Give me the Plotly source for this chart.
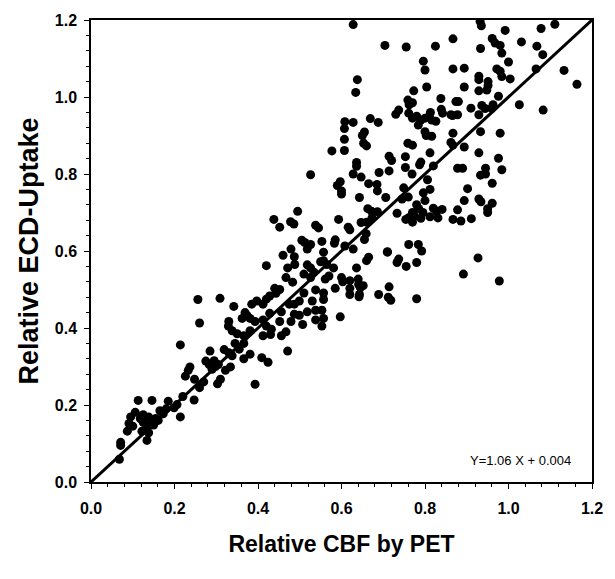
import plotly.graph_objects as go

# Relative CBF by PET (x) and Relative ECD-uptake (y), grouped by region of the plot
low_cbf = [0.068,0.071,0.071,0.087,0.091,0.095,0.106,0.113,0.118,0.122,0.134,0.134,0.138,0.138,0.146,0.15,0.161,0.173,0.185,0.199,0.206,0.214,0.22,0.247,0.226,0.237,0.214,0.275,0.285,0.29,0.248,0.233,0.26,0.27,0.10,0.125,0.155,0.165,0.18,0.145,0.125]
low_ecd = [0.059,0.095,0.103,0.132,0.152,0.169,0.181,0.212,0.165,0.132,0.108,0.144,0.128,0.169,0.212,0.148,0.16,0.177,0.21,0.193,0.201,0.169,0.222,0.213,0.275,0.299,0.356,0.314,0.34,0.293,0.267,0.29,0.245,0.26,0.145,0.175,0.165,0.185,0.19,0.155,0.155]

mid_low_cbf = [0.256,0.309,0.342,0.26,0.33,0.329,0.338,0.319,0.33,0.338,0.366,0.381,0.409,0.424,0.471,0.31,0.303,0.393,0.305,0.298,0.334,0.322,0.283,0.295,0.366,0.35,0.345,0.355]
mid_low_ecd = [0.474,0.477,0.456,0.413,0.417,0.405,0.393,0.344,0.336,0.328,0.32,0.332,0.323,0.311,0.34,0.267,0.255,0.254,0.305,0.3,0.299,0.29,0.305,0.315,0.36,0.385,0.36,0.345]

mid_cbf = [0.495,0.438,0.452,0.486,0.478,0.538,0.545,0.593,0.616,0.62,0.647,0.505,0.512,0.526,0.518,0.553,0.585,0.583,0.608,0.628,0.655,0.479,0.46,0.487,0.557,0.42,0.471,0.488,0.518,0.526,0.55,0.557,0.565,0.581,0.467,0.483,0.51,0.526,0.534,0.561,0.57,0.6,0.603,0.62,0.64,0.652,0.585,0.62,0.643,0.62,0.44,0.443,0.452,0.428,0.42,0.538,0.557,0.557,0.51,0.499,0.53,0.475,0.487,0.518,0.538,0.553,0.557,0.538,0.499,0.487,0.479,0.507,0.553,0.597,0.456,0.452,0.467,0.428,0.412,0.397,0.385,0.369,0.374,0.362,0.381,0.393,0.412,0.42,0.432,0.43,0.456,0.412,0.381,0.366]
mid_ecd = [0.703,0.682,0.662,0.67,0.676,0.667,0.66,0.682,0.662,0.655,0.674,0.628,0.622,0.617,0.605,0.625,0.629,0.62,0.613,0.605,0.63,0.605,0.589,0.585,0.597,0.562,0.556,0.565,0.564,0.556,0.572,0.575,0.565,0.556,0.531,0.519,0.54,0.531,0.545,0.527,0.535,0.531,0.52,0.523,0.527,0.51,0.503,0.503,0.487,0.487,0.503,0.49,0.5,0.483,0.475,0.499,0.491,0.474,0.491,0.47,0.47,0.462,0.462,0.442,0.446,0.446,0.425,0.421,0.433,0.436,0.417,0.409,0.405,0.429,0.442,0.417,0.39,0.438,0.462,0.47,0.462,0.44,0.432,0.425,0.425,0.417,0.421,0.405,0.397,0.383,0.38,0.38,0.393,0.38]

upper_mid_cbf = [0.577,0.607,0.714,0.72,0.753,0.753,0.636,0.636,0.526,0.628,0.647,0.69,0.714,0.769,0.597,0.59,0.665,0.685,0.6,0.6,0.686,0.749,0.643,0.706,0.745,0.76,0.663,0.672,0.686,0.733,0.77,0.775,0.785,0.79,0.78,0.795,0.77,0.754,0.762,0.659,0.71,0.761,0.673,0.66,0.784]
upper_mid_ecd = [0.86,0.861,0.846,0.835,0.845,0.817,0.82,0.83,0.798,0.8,0.792,0.804,0.808,0.8,0.78,0.77,0.775,0.773,0.756,0.748,0.756,0.764,0.739,0.739,0.735,0.74,0.71,0.703,0.702,0.698,0.70,0.69,0.71,0.685,0.72,0.70,0.675,0.682,0.687,0.645,0.597,0.617,0.686,0.675,0.617]

top_mid_cbf = [0.628,0.704,0.755,0.638,0.634,0.773,0.759,0.762,0.77,0.737,0.73,0.761,0.77,0.78,0.784,0.608,0.628,0.669,0.688,0.607,0.655,0.65,0.607,0.653,0.66,0.759,0.77]
top_mid_ecd = [1.188,1.134,1.13,1.045,1.012,1.016,0.992,0.98,0.985,0.966,0.955,0.958,0.945,0.95,0.927,0.936,0.934,0.944,0.934,0.918,0.909,0.9,0.89,0.88,0.873,0.88,0.875]

top_right_cbf = [0.932,0.935,0.992,0.867,0.825,0.961,0.968,0.933,0.98,0.984,1.031,1.0,0.796,0.8,0.867,0.894,0.972,0.98,0.929,0.929,0.984,1.004,0.804,0.894,0.951,0.951,0.948,0.929,0.976,0.838,0.874,0.88,0.91,0.936,0.944,0.963,0.96,1.026,0.813,0.81,0.839,0.842,0.862,0.866,0.878,0.929,0.79,0.8,0.816,0.826,0.8,0.803,0.816,0.867,0.933,0.98,0.862,0.867,0.894]
top_right_ecd = [1.196,1.185,1.173,1.151,1.132,1.152,1.14,1.126,1.134,1.114,1.143,1.091,1.093,1.07,1.073,1.075,1.073,1.067,1.054,1.045,1.053,1.047,1.026,1.026,1.04,1.03,1.018,1.016,1.002,0.996,0.988,0.988,0.971,0.978,0.97,0.98,0.97,0.98,0.96,0.95,0.968,0.958,0.954,0.952,0.954,0.954,0.94,0.945,0.94,0.937,0.91,0.9,0.898,0.906,0.91,0.906,0.882,0.875,0.87]

right_cbf = [0.929,0.976,0.812,0.79,0.787,0.82,0.878,0.89,0.945,0.945,0.933,0.984,0.961,0.806,0.902,0.812,0.796,0.894,0.929,0.934,0.961,0.8,0.82,0.828,0.841,0.878,0.95,0.95,0.812,0.831,0.867,0.886,0.911,0.927,0.892,0.978]
right_ecd = [0.855,0.841,0.855,0.831,0.824,0.821,0.815,0.815,0.815,0.8,0.797,0.811,0.776,0.785,0.762,0.76,0.751,0.731,0.735,0.728,0.724,0.731,0.711,0.703,0.708,0.707,0.71,0.7,0.689,0.686,0.682,0.678,0.684,0.582,0.54,0.522]

far_right_cbf = [1.111,1.078,1.068,1.082,1.066,1.133,1.164,1.083]
far_right_ecd = [1.189,1.178,1.132,1.11,1.073,1.069,1.033,0.966]

lower_right_cbf = [0.665,0.66,0.71,0.737,0.733,0.755,0.78,0.792,0.636,0.641,0.645,0.642,0.714,0.689,0.712,0.718,0.78]
lower_right_ecd = [0.584,0.575,0.598,0.579,0.57,0.56,0.57,0.6,0.556,0.513,0.505,0.481,0.507,0.487,0.48,0.472,0.476]

line_x = [0.0, 1.2]
line_y = [0.0, 1.2]

x_ticks = [0.0, 0.2, 0.4, 0.6, 0.8, 1.0, 1.2]
tick_text = ["0.0", "0.2", "0.4", "0.6", "0.8", "1.0", "1.2"]
equation = "Y=1.06 X + 0.004"

cbf = low_cbf + mid_low_cbf + mid_cbf + upper_mid_cbf + top_mid_cbf + top_right_cbf + right_cbf + far_right_cbf + lower_right_cbf
ecd = low_ecd + mid_low_ecd + mid_ecd + upper_mid_ecd + top_mid_ecd + top_right_ecd + right_ecd + far_right_ecd + lower_right_ecd

fig = go.Figure()
fig.add_trace(go.Scatter(x=cbf, y=ecd, mode="markers",
                         marker=dict(color="black", size=9, line=dict(width=0)),
                         showlegend=False, cliponaxis=True))
fig.add_trace(go.Scatter(x=line_x, y=line_y, mode="lines",
                         line=dict(color="black", width=3), showlegend=False))

axis_common = dict(
    range=[0, 1.2], tickvals=x_ticks, ticktext=tick_text,
    showgrid=False, zeroline=False, showline=True, linecolor="black", linewidth=1.5,
    mirror=True, ticks="outside", ticklen=5, tickwidth=1, tickcolor="black",
    minor=dict(dtick=0.04, ticks="outside", ticklen=3, tickcolor="black"),
    tickfont=dict(family="Liberation Sans", size=16, color="black", weight="bold"),
)

fig.update_xaxes(**axis_common, ticklabelstandoff=6,
                 title=dict(text="Relative CBF by PET", standoff=20,
                            font=dict(family="Liberation Sans", size=23, color="black", weight="bold")))
fig.update_yaxes(**axis_common, ticklabelstandoff=4,
                 title=dict(text="Relative ECD-Uptake", standoff=8,
                            font=dict(family="Liberation Sans", size=27, color="black", weight="bold")))

fig.add_annotation(x=1.155, y=0.056, xref="x", yref="y", text=equation, showarrow=False,
                   xanchor="right", yanchor="middle",
                   font=dict(family="Liberation Sans", size=13, color="black"))

fig.update_layout(width=615, height=579, margin=dict(l=91, r=13, t=17, b=97),
                  plot_bgcolor="white", paper_bgcolor="white")

fig.write_html("out.html", config={"displayModeBar": False},
               post_script="document.body.style.margin='0px';")
